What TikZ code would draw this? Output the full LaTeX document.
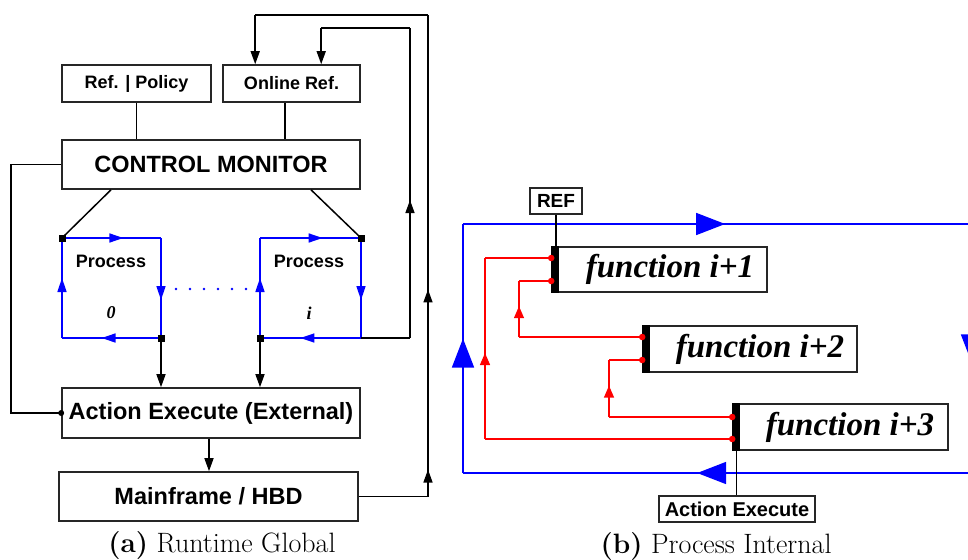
\documentclass[tikz,border=0pt]{standalone}
\usepackage{fontspec}
\newfontfamily\sansb{Liberation Sans}
\newfontfamily\timesb{Liberation Serif}
\usetikzlibrary{arrows.meta,decorations.markings}
\definecolor{pblue}{RGB}{0,0,255}
\definecolor{pred}{RGB}{255,0,0}
\tikzset{
  blk/.tip={Triangle[length=13pt,width=9pt]},
  blu/.tip={Triangle[length=14pt,width=9pt]},
  bigb/.tip={Triangle[length=29pt,width=22pt]},
  rdt/.tip={Triangle[length=12pt,width=10pt]},
  marr/.style 2 args={postaction={decorate,decoration={markings,mark=at position #1 with {\arrow{#2}}}}},
  box/.style={draw=black!85, line width=1.6pt, rectangle, inner sep=0pt, font=\sansb\bfseries\fontsize{18}{20}\selectfont},
  bigbox/.style={box, font=\sansb\bfseries\fontsize{23.5}{26}\selectfont},
  fbox/.style={draw=black!85, line width=1.6pt, rectangle, inner sep=0pt, minimum width=215pt, minimum height=46pt},
  ftxt/.style={font=\timesb\bfseries\itshape\fontsize{33}{36}\selectfont, inner sep=0pt},
  ptxt/.style={font=\sansb\bfseries\fontsize{18}{20}\selectfont, inner sep=0pt},
  itxt/.style={font=\timesb\bfseries\itshape\fontsize{18}{20}\selectfont, inner sep=0pt},
  ln/.style={line width=1.5pt, black},
  bl/.style={line width=1.6pt, pblue},
  rl/.style={line width=1.4pt, pred},
  sq/.style={fill=black, rectangle, minimum size=7pt, inner sep=0pt},
  rdot/.style={fill=pred, circle, minimum size=6.5pt, inner sep=0pt},
  captxt/.style={font=\fontsize{28}{32}\selectfont, inner sep=0pt},
}
\begin{document}
\begin{tikzpicture}[x=1pt,y=-1pt]
\clip (0,0) rectangle (968,559);
% ---------------- (a) Runtime Global ----------------
\node[box, minimum width=149pt, minimum height=37pt] (refpol) at (136.5,83.5) {Ref. | Policy};
\node[box, minimum width=137pt, minimum height=37pt] (onref) at (291.5,83.5) {Online Ref.};
\node[bigbox, minimum width=298pt, minimum height=49pt] (cm) at (211,164.5) {CONTROL MONITOR};
\node[bigbox, minimum width=298pt, minimum height=50pt] (act) at (211,413) {Action Execute (External)};
\node[bigbox, minimum width=299pt, minimum height=49pt] (mf) at (208.5,496.5) {Mainframe / HBD};

\draw[ln] (refpol.south) -- (refpol.south |- cm.north);
\draw[ln] ([xshift=-6.5pt]onref.south) -- ([xshift=-6.5pt]onref.south |- cm.north);

% process loops
\coordinate (p0tl) at (62,238); \coordinate (p0tr) at (161,238);
\coordinate (p0br) at (161,338); \coordinate (p0bl) at (62,338);
\coordinate (pitl) at (260,238); \coordinate (pitr) at (361,238);
\coordinate (pibr) at (361,338); \coordinate (pibl) at (260,338);
\draw[bl, marr={0.62}{blu}] (p0tl) -- (p0tr);
\draw[bl, marr={0.62}{blu}] (p0tr) -- (p0br);
\draw[bl, marr={0.6}{blu}] (p0br) -- (p0bl);
\draw[bl, marr={0.6}{blu}] (p0bl) -- (p0tl);
\draw[bl, marr={0.62}{blu}] (pitl) -- (pitr);
\draw[bl, marr={0.62}{blu}] (pitr) -- (pibr);
\draw[bl, marr={0.6}{blu}] (pibr) -- (pibl);
\draw[bl, marr={0.6}{blu}] (pibl) -- (pitl);
\foreach \k in {0,...,5} { \fill[pblue] (176+14*\k,289) circle (1.4pt); }
\node[ptxt] (pt0) at (111,261) {Process};
\node[itxt] (n0) at (111,313) {0};
\node[ptxt] (pti) at (309,261) {Process};
\node[itxt] (ni) at (309,313) {i};

\draw[ln] ([xshift=-100pt]cm.south) -- (p0tl);
\draw[ln] ([xshift=100pt]cm.south) -- (pitr);
\node[sq] (s1) at (p0tl) {};
\node[sq] (s2) at (pitr) {};
\node[sq] (s3) at (p0br) {};
\node[sq] (s4) at (pibl) {};

\draw[ln,-{blk}] (p0br) -- (p0br |- act.north);
\draw[ln,-{blk}] (pibl) -- (pibl |- act.north);
\draw[ln,-{blk}] ([xshift=-2pt]act.south) -- ([xshift=-2pt]act.south |- mf.north);

% left feedback
\draw[ln] (cm.west) -- ++(-50,0) |- (act.west);
\fill (act.west) circle (3pt);

% outer and inner loops to Online Ref.
\coordinate (ox) at (428,15);
\coordinate (ix) at (410,28);
\coordinate (oin) at ([xshift=33pt]onref.north west);
\coordinate (iin) at ([xshift=99pt]onref.north west);
\draw[ln] (mf.east) -- (mf.east -| ox);
\draw[ln, postaction={decorate,decoration={markings,
   mark=at position 0.056 with {\arrow{blk}},
   mark=at position 0.43 with {\arrow{blk}}}}] (mf.east -| ox) -- (ox);
\draw[ln] (ox) -- (ox -| oin);
\draw[ln,-{blk}] (ox -| oin) -- (oin);
\draw[ln] (pibr) -- (pibr -| ix);
\draw[ln, marr={0.445}{blk}] (pibr -| ix) -- (ix);
\draw[ln] (ix) -- (ix -| iin);
\draw[ln,-{blk}] (ix -| iin) -- (iin);

\node[captxt] (capa) at (222,546) {\textbf{(a)} Runtime Global};

% ---------------- (b) Process Internal ----------------
\coordinate (bA) at (463,224); \coordinate (bB) at (972,224);
\coordinate (bC) at (972,473); \coordinate (bD) at (463,473);
\draw[bl, marr={0.515}{bigb}] (bA) -- (bB);
\draw[bl, marr={0.56}{bigb}] (bB) -- (bC);
\draw[bl, marr={0.54}{bigb}] (bC) -- (bD);
\draw[bl, marr={0.54}{bigb}] (bD) -- (bA);

\node[box, font=\sansb\bfseries\fontsize{19}{20}\selectfont, minimum width=52pt, minimum height=26pt] (ref) at (556,201) {REF};
\node[fbox, minimum height=45pt] (f1) at (659.5,269.5) {};
\node[fbox, minimum width=214pt] (f2) at (750,349) {};
\node[fbox] (f3) at (840.5,427) {};
\node[box, font=\sansb\bfseries\fontsize{20}{22}\selectfont, minimum width=156pt, minimum height=26pt] (ae) at (737,509) {Action Execute};

\foreach \f in {f1,f2,f3} {
  \fill (\f.north west) rectangle ([xshift=8pt]\f.south west);
}
\node[ftxt] (f1t) at ([xshift=10.5pt]f1.center) {function i+1};
\node[ftxt] (f2t) at ([xshift=10pt]f2.center) {function i+2};
\node[ftxt] (f3t) at ([xshift=9.5pt]f3.center) {function i+3};

\draw[ln] (ref.south) -- (ref.south |- f1.north);
\draw[ln] ([xshift=4.5pt]f3.south west) -- ([xshift=4.5pt]f3.south west |- ae.north);

% red connectors
\coordinate (f1a) at ([yshift=11.5pt]f1.west);
\coordinate (f1b) at ([yshift=-11.5pt]f1.west);
\coordinate (f2a) at ([yshift=12pt]f2.west);
\coordinate (f2b) at ([yshift=-11pt]f2.west);
\coordinate (f3a) at ([yshift=10pt]f3.west);
\coordinate (f3b) at ([yshift=-12pt]f3.west);
\coordinate (r1x) at (485,0);
\coordinate (r2x) at (519,0);
\coordinate (r3x) at (609,0);
\draw[rl] (f3b) -- (f3b -| r1x);
\draw[rl, marr={0.475}{rdt}] (f3b -| r1x) -- (f1a -| r1x);
\draw[rl] (f1a -| r1x) -- (f1a);
\draw[rl] (f2a) -- (f2a -| r2x);
\draw[rl, marr={0.55}{rdt}] (f2a -| r2x) -- (f1b -| r2x);
\draw[rl] (f1b -| r2x) -- (f1b);
\draw[rl] (f3a) -- (f3a -| r3x);
\draw[rl, marr={0.55}{rdt}] (f3a -| r3x) -- (f2b -| r3x);
\draw[rl] (f2b -| r3x) -- (f2b);
\foreach \d in {f1a,f1b,f2a,f2b,f3a,f3b} { \node[rdot] at (\d) {}; }

\node[captxt] (capb) at (716,547) {\textbf{(b)} Process Internal};
\end{tikzpicture}
\end{document}
